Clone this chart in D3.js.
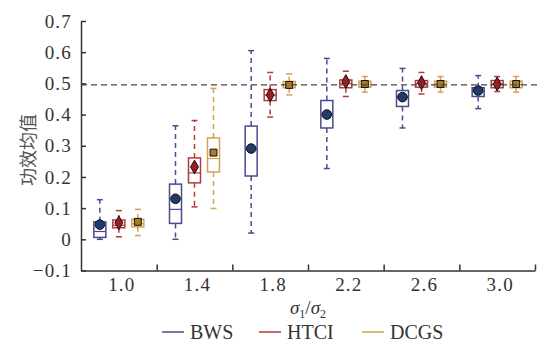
<!DOCTYPE html>
<html>
<head>
<meta charset="utf-8">
<style>
  body { margin: 0; background: #fff; }
  .axis path, .axis line { fill: none; stroke: #333; stroke-width: 1.5px; }
  .axis text { font-family: "Liberation Serif", "Times New Roman", serif; font-size: 19px; fill: #333; letter-spacing: 1.2px; }
</style>
</head>
<body>
<div id="chart"></div>
<script src="https://d3js.org/d3.v7.min.js"></script>
<script>
const groups = ['1.0', '1.4', '1.8', '2.2', '2.6', '3.0'];
const series = ['BWS', 'HTCI', 'DCGS'];
const yTicks = [-0.1, 0, 0.1, 0.2, 0.3, 0.4, 0.5, 0.6, 0.7];
const refValue = 0.495;

// box stats per series, one value per group
const bwsLow  = [0.000, 0.000, 0.020, 0.227, 0.357, 0.419];
const bwsQ1   = [0.006, 0.051, 0.203, 0.357, 0.426, 0.458];
const bwsMed  = [0.025, 0.096, 0.290, 0.400, 0.455, 0.476];
const bwsQ3   = [0.056, 0.177, 0.363, 0.445, 0.477, 0.486];
const bwsHigh = [0.127, 0.364, 0.605, 0.580, 0.548, 0.525];
const bwsMean = [0.047, 0.130, 0.291, 0.400, 0.456, 0.477];

const htciLow  = [0.008, 0.104, 0.392, 0.458, 0.466, 0.474];
const htciQ1   = [0.037, 0.181, 0.445, 0.486, 0.488, 0.486];
const htciMed  = [0.045, 0.213, 0.462, 0.499, 0.499, 0.498];
const htciQ3   = [0.062, 0.261, 0.480, 0.511, 0.509, 0.509];
const htciHigh = [0.092, 0.381, 0.535, 0.539, 0.535, 0.522];
const htciMean = [0.053, 0.232, 0.463, 0.506, 0.502, 0.498];

const dcgsLow  = [0.012, 0.099, 0.463, 0.472, 0.472, 0.472];
const dcgsQ1   = [0.040, 0.216, 0.486, 0.488, 0.488, 0.486];
const dcgsMed  = [0.050, 0.259, 0.497, 0.498, 0.498, 0.497];
const dcgsQ3   = [0.064, 0.325, 0.506, 0.507, 0.507, 0.507];
const dcgsHigh = [0.096, 0.484, 0.530, 0.522, 0.522, 0.522];
const dcgsMean = [0.056, 0.278, 0.495, 0.498, 0.498, 0.498];

const stats = {
  BWS:  [bwsLow, bwsQ1, bwsMed, bwsQ3, bwsHigh, bwsMean],
  HTCI: [htciLow, htciQ1, htciMed, htciQ3, htciHigh, htciMean],
  DCGS: [dcgsLow, dcgsQ1, dcgsMed, dcgsQ3, dcgsHigh, dcgsMean]
};

const line = { BWS: '#4b4b8c', HTCI: '#b23a3a', DCGS: '#d3a154' };
const fill = { BWS: '#1f3a6d', HTCI: '#9c1c22', DCGS: '#a97b22' };

const width = 537, height = 345;
const x0 = 81, x1 = 535, yTop = 21, yBottom = 270.5;

const svg = d3.select('#chart').append('svg')
  .attr('width', width).attr('height', height);

const x = d3.scaleBand().domain(groups).range([x0, x1]).padding(0);
const xs = d3.scaleBand().domain(series).range([-28.5, 28.5]);
const y = d3.scaleLinear().domain([-0.1, 0.7]).range([yBottom, yTop]);

// flatten into boxes
const boxes = [];
series.forEach(s => {
  const [lo, q1, md, q3, hi, mn] = stats[s];
  groups.forEach((g, i) => {
    boxes.push({ s, g, lo: lo[i], q1: q1[i], md: md[i], q3: q3[i], hi: hi[i], mn: mn[i] });
  });
});

const cx = d => x(d.g) + x.bandwidth() / 2 + xs(d.s) + xs.bandwidth() / 2;
const bw = 12, cap = 6;

const b = svg.selectAll('.box').data(boxes).enter().append('g').attr('class', 'box');

// dashed whiskers
b.append('line')
  .attr('x1', cx).attr('x2', cx)
  .attr('y1', d => y(d.q3)).attr('y2', d => y(d.hi))
  .attr('stroke', d => line[d.s]).attr('stroke-width', 1.5).attr('stroke-dasharray', '5,4');
b.append('line')
  .attr('x1', cx).attr('x2', cx)
  .attr('y1', d => y(d.q1)).attr('y2', d => y(d.lo))
  .attr('stroke', d => line[d.s]).attr('stroke-width', 1.5).attr('stroke-dasharray', '5,4');

// caps
['hi', 'lo'].forEach(k => {
  b.append('line')
    .attr('x1', d => cx(d) - cap / 2).attr('x2', d => cx(d) + cap / 2)
    .attr('y1', d => y(d[k])).attr('y2', d => y(d[k]))
    .attr('stroke', d => line[d.s]).attr('stroke-width', 1.5);
});

// box
b.append('rect')
  .attr('x', d => cx(d) - bw / 2).attr('width', bw)
  .attr('y', d => y(d.q3)).attr('height', d => y(d.q1) - y(d.q3))
  .attr('fill', '#fff').attr('stroke', d => line[d.s]).attr('stroke-width', 1.5);

// median
b.append('line')
  .attr('x1', d => cx(d) - bw / 2).attr('x2', d => cx(d) + bw / 2)
  .attr('y1', d => y(d.md)).attr('y2', d => y(d.md))
  .attr('stroke', d => line[d.s]).attr('stroke-width', 1.2);

// reference line
svg.append('line')
  .attr('x1', x0).attr('x2', width)
  .attr('y1', y(refValue)).attr('y2', y(refValue))
  .attr('stroke', '#444').attr('stroke-width', 1.3).attr('stroke-dasharray', '6,4');

// mean markers
const sym = { BWS: d3.symbolCircle, HTCI: d3.symbolDiamond, DCGS: d3.symbolSquare };
const size = { BWS: 72, HTCI: 54, DCGS: 48 };
b.append('path')
  .attr('d', d => d3.symbol(sym[d.s], size[d.s])())
  .attr('transform', d => `translate(${cx(d)},${y(d.mn)})`)
  .attr('fill', d => fill[d.s]).attr('stroke', '#111').attr('stroke-width', 1);

// axes
svg.append('g').attr('class', 'axis')
  .attr('transform', `translate(${x0},0)`)
  .call(d3.axisLeft(y).tickValues(yTicks).tickSizeInner(-5).tickSizeOuter(0).tickPadding(9)
    .tickFormat(d => d === 0 ? '0' : d3.format('.1f')(d)));

const xb = d3.scaleLinear().domain([0, groups.length]).range([x0, x1]);
svg.append('g').attr('class', 'axis')
  .attr('transform', `translate(0,${yBottom})`)
  .call(d3.axisBottom(xb).tickValues(d3.range(1, groups.length + 1)).tickSizeInner(-6).tickSizeOuter(0).tickFormat(''));

svg.append('g').attr('class', 'axis xlab')
  .attr('transform', `translate(0,${yBottom})`)
  .call(d3.axisBottom(x).tickSize(0).tickPadding(7))
  .call(g => g.select('.domain').remove())
  .selectAll('text').attr('dx', 3);

// axis titles
const xt = svg.append('text')
  .attr('x', 308).attr('y', 314)
  .attr('text-anchor', 'middle')
  .style('font-family', '"Liberation Serif", serif').style('font-size', '19px').style('fill', '#333');
xt.append('tspan').style('font-style', 'italic').text('σ');
xt.append('tspan').attr('dy', 4).style('font-size', '12px').text('1');
xt.append('tspan').attr('dy', -4).text('/');
xt.append('tspan').style('font-style', 'italic').text('σ');
xt.append('tspan').attr('dy', 4).style('font-size', '12px').text('2');

svg.append('text')
  .attr('transform', 'translate(35,150) rotate(-90)')
  .attr('text-anchor', 'middle')
  .style('font-family', '"Noto Sans CJK SC", sans-serif').style('font-size', '18px').style('fill', '#555')
  .text('功效均值');

// legend
const legX = [162, 259, 362];
const leg = svg.selectAll('.leg').data(series).enter().append('g')
  .attr('transform', (d, i) => `translate(${legX[i]},332)`);
leg.append('line').attr('x1', 0).attr('x2', 22).attr('y1', 0).attr('y2', 0)
  .attr('stroke', d => line[d]).attr('stroke-width', 1.5);
leg.append('text').attr('x', 28).attr('y', 6.5)
  .style('font-family', '"Liberation Serif", serif').style('font-size', '20px').style('fill', '#333')
  .text(d => d);
</script>
</body>
</html>
